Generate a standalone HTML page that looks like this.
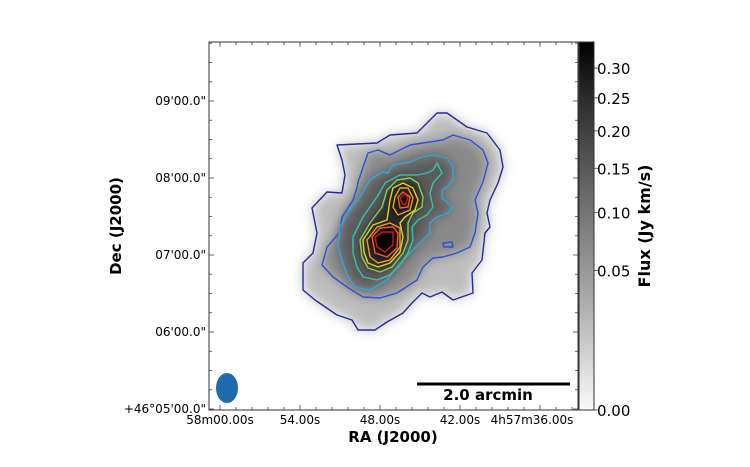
<!DOCTYPE html>
<html><head><meta charset="utf-8"><style>
body{margin:0;background:#fff;}
svg text{font-family:"DejaVu Sans","Liberation Sans",sans-serif;}
</style></head><body>
<svg id="fig" width="750" height="462" viewBox="0 0 750 462" xmlns="http://www.w3.org/2000/svg">
<defs>
<filter id="bl" x="-30%" y="-30%" width="160%" height="160%"><feGaussianBlur stdDeviation="6"/></filter>
<filter id="bl2" x="-50%" y="-50%" width="200%" height="200%"><feGaussianBlur stdDeviation="5"/></filter>
<linearGradient id="cb" x1="0" y1="0" x2="0" y2="1">
<stop offset="0" stop-color="#000"/><stop offset="0.15" stop-color="#2a2a2a"/><stop offset="0.4" stop-color="#666"/><stop offset="0.7" stop-color="#aaa"/><stop offset="1" stop-color="#fafafa"/>
</linearGradient>
<clipPath id="clip"><rect x="209" y="42" width="369" height="368"/></clipPath>
</defs>
<g id="img" clip-path="url(#clip)"></g>
<g id="cont"></g>
<rect x="209" y="42" width="369" height="368" fill="none" stroke="#333" stroke-width="1"/>
<g id="axes"></g>
<ellipse cx="227" cy="388" rx="11" ry="15" fill="#1f6aad"/>
<line x1="417" y1="384" x2="570" y2="384" stroke="#000" stroke-width="3"/>
<text x="488" y="400" font-size="15" font-weight="bold" text-anchor="middle">2.0 arcmin</text>
<text x="393" y="442" font-size="15" font-weight="bold" text-anchor="middle">RA (J2000)</text>
<text transform="translate(121,226) rotate(-90)" font-size="15" font-weight="bold" text-anchor="middle">Dec (J2000)</text>
<rect x="579" y="42" width="15" height="368" fill="url(#cb)" stroke="#333"/>
<g id="cbax"></g>
<text transform="translate(650,226) rotate(-90)" font-size="16" font-weight="bold" text-anchor="middle">Flux (Jy km/s)</text>
</svg>
<script>
const NS="http://www.w3.org/2000/svg";
const xTickLabels=["58m00.00s","54.00s","48.00s","42.00s","4h57m36.00s"];
const yTickLabels=["+46°05'00.0\"","06'00.0\"","07'00.0\"","08'00.0\"","09'00.0\""];
const cbTickValues=[0.00,0.05,0.10,0.15,0.20,0.25,0.30];
const cbTickLabels=["0.00","0.05","0.10","0.15","0.20","0.25","0.30"];
const contourColors=["#262a9a","#2d52d6","#2aa8e0","#30c4a8","#86d050","#e2d21e","#f0a028","#f06020","#dd1010"];
const contourShapes=[
 [[337,145],[377,143],[390,135],[417,133],[437,113],[447,113],[467,127],[487,133],[500,150],[503,167],[498,183],[490,200],[487,213],[490,227],[485,233],[482,260],[472,273],[473,293],[453,300],[442,292],[430,297],[422,293],[412,303],[403,313],[387,322],[375,330],[358,330],[352,320],[337,315],[315,300],[303,290],[303,263],[313,253],[317,233],[312,208],[327,192],[342,193],[345,175],[342,160]],
 [[358,182],[368,153],[378,150],[390,155],[400,150],[410,145],[423,143],[443,140],[453,135],[470,140],[483,150],[488,163],[483,182],[475,200],[478,213],[475,233],[470,247],[457,253],[443,257],[433,258],[423,267],[417,280],[397,293],[380,298],[363,297],[347,287],[333,277],[322,265],[327,247],[340,232],[342,217],[353,200],[357,188]],
 [[340,227],[350,210],[360,197],[370,180],[382,172],[388,173],[393,165],[410,162],[422,157],[433,155],[447,158],[453,167],[453,180],[447,187],[442,190],[442,198],[453,207],[448,213],[437,217],[430,223],[430,233],[423,240],[410,253],[397,267],[387,280],[370,290],[355,287],[347,275],[342,260],[338,247]],
 [[353,237],[363,217],[377,197],[385,183],[400,175],[417,175],[427,173],[433,170],[437,163],[442,173],[433,183],[430,193],[433,207],[427,215],[418,220],[412,227],[413,240],[408,253],[400,265],[390,275],[377,280],[363,277],[357,267],[353,253]],
 [[360,240],[370,223],[382,207],[387,190],[397,180],[410,178],[418,183],[423,197],[422,207],[413,213],[408,223],[408,240],[403,253],[392,267],[380,272],[368,268],[362,257]],
 [[363,240],[373,225],[387,220],[390,200],[393,188],[403,183],[413,188],[418,200],[415,210],[405,217],[400,223],[403,237],[400,252],[390,263],[378,267],[368,263],[364,252]],
 [[367,240],[377,227],[390,223],[400,228],[400,247],[390,260],[378,263],[370,257]],
 [[372,237],[380,228],[393,227],[398,233],[397,248],[387,257],[375,253]],
 [[375,237],[383,232],[393,232],[393,245],[385,252],[377,247]]
];
const upperShapes=[[6,[[395,197],[400,188],[408,188],[413,198],[410,210],[398,215],[393,207]]],[7,[[398,197],[403,192],[410,197],[408,207],[400,208]]],[8,[[400,198],[405,194],[408,198],[405,205],[402,203]]],[1,[[443,243],[452,242],[453,247],[444,247]]]];
const grayFills=[["#bdbdbd",0,"bl"],["#8a8a8a",1,"bl"],["#5c5c5c",2,"bl"],["#2a2a2a",4,"bl2"],["#000",7,"bl2"]];
function pts(a){return a.map(p=>p.join(",")).join(" ");}
const img=document.getElementById("img");
grayFills.forEach(([c,i,f])=>{
 const p=document.createElementNS(NS,"polygon");
 p.setAttribute("points",pts(contourShapes[i]));p.setAttribute("fill",c);p.setAttribute("filter","url(#"+f+")");
 
 
 img.appendChild(p);
});
[[6,"#111"]].forEach(([i,c])=>{const p=document.createElementNS(NS,"polygon");p.setAttribute("points",pts(upperShapes.find(u=>u[0]===i)[1]));p.setAttribute("fill",c);p.setAttribute("filter","url(#bl2)");
 
 
 img.appendChild(p);});
const cont=document.getElementById("cont");
function addC(shape,i){const p=document.createElementNS(NS,"polygon");p.setAttribute("points",pts(shape));p.setAttribute("fill","none");p.setAttribute("stroke",contourColors[i]);p.setAttribute("stroke-width","1.4");p.setAttribute("stroke-linejoin","round");
 
 
 cont.appendChild(p);}
contourShapes.forEach((s,i)=>addC(s,i));
upperShapes.forEach(([i,s])=>addC(s,i));
const ax=document.getElementById("axes");
function line(g,x1,y1,x2,y2,c){const l=document.createElementNS(NS,"line");l.setAttribute("x1",x1);l.setAttribute("y1",y1);l.setAttribute("x2",x2);l.setAttribute("y2",y2);l.setAttribute("stroke",c||"#444");l.setAttribute("stroke-width","0.8");
 
 
 g.appendChild(l);}
function text(g,x,y,s,anchor,size,name){const t=document.createElementNS(NS,"text");t.setAttribute("x",x);t.setAttribute("y",y);t.setAttribute("font-size",size);t.setAttribute("text-anchor",anchor);t.textContent=s;
 
 
 g.appendChild(t);}
const xs=i=>220+80*i, ys=i=>409-77*i;
for(let k=-1;k<=23;k++){const x=220+80*k/5;if(x>209&&x<578){const big=k%5===0;line(ax,x,410,x,big?405:407);line(ax,x,42,x,big?47:45);}}
xTickLabels.forEach((s,i)=>text(ax,i===4?Math.min(xs(i),532):xs(i),424,s,"middle",12,"x-tick-label"));
for(let k=0;k<=20;k++){const y=409-77*k/4;if(y>42){const big=k%4===0;line(ax,209,y,big?214:212,y);line(ax,578,y,big?573:575,y);}}
yTickLabels.forEach((s,i)=>text(ax,206,ys(i)+4,s,"end",12,"y-tick-label"));
const cbY=v=>410-368*Math.sqrt(v/0.3476);
const cg=document.getElementById("cbax");
cbTickValues.forEach((v,i)=>{const y=cbY(v);line(cg,594,y,598,y,"#333");text(cg,597,y+6,cbTickLabels[i],"start",15,"colorbar-tick-label");});
</script>
</body></html>
